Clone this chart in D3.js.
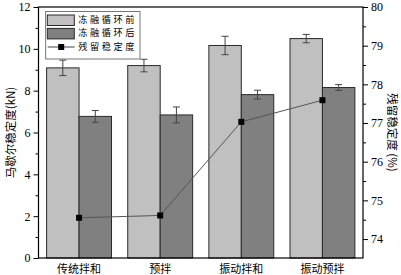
<!DOCTYPE html>
<html>
<head>
<meta charset="utf-8">
<script src="https://cdn.jsdelivr.net/npm/d3@7"></script>
<style>
  body { margin: 0; background: #fff; }
  svg { display: block; }
</style>
</head>
<body>
<div id="chart"></div>
<script>
const categories = ["传统拌和", "预拌", "振动拌和", "振动预拌"];
const before = [9.09, 9.2, 10.16, 10.49];
const beforeErr = [0.37, 0.3, 0.44, 0.2];
const after = [6.77, 6.84, 7.81, 8.15];
const afterErr = [0.28, 0.38, 0.21, 0.14];
const residual = [74.55, 74.61, 77.03, 77.59];
const leftTicks = [0, 2, 4, 6, 8, 10, 12];
const rightTicks = [74, 75, 76, 77, 78, 79, 80];
const legendLabels = ["冻融循环前", "冻融循环后", "残留稳定度"];

const width = 401, height = 275;
const margin = { top: 7, right: 38, bottom: 17, left: 38.5 };
const w = width - margin.left - margin.right;
const h = height - margin.top - margin.bottom;
const cjk = "'Noto Sans CJK SC', sans-serif";
const serif = "'Liberation Serif', 'DejaVu Serif', serif";

const svg = d3.select("#chart").append("svg")
  .attr("width", width).attr("height", height)
  .append("g")
  .attr("transform", `translate(${margin.left},${margin.top})`);

const x = d3.scaleBand().domain(categories).range([0, w]);
const yL = d3.scaleLinear().domain([0, 12]).range([h, 0]);
const yR = d3.scaleLinear().domain([73.51, 80]).range([h, 0]);
const bw = x.bandwidth() * 0.4;

// Balken
const series = [
  { vals: before, errs: beforeErr, fill: "#c0c0c0", off: -bw },
  { vals: after, errs: afterErr, fill: "#808080", off: 0 }
];
series.forEach(s => {
  svg.selectAll(null).data(categories).enter().append("rect")
    .attr("x", d => x(d) + x.bandwidth() / 2 + s.off)
    .attr("y", (d, i) => yL(s.vals[i]))
    .attr("width", bw)
    .attr("height", (d, i) => h - yL(s.vals[i]))
    .attr("fill", s.fill)
    .attr("stroke", "#2a2a2a")
    .attr("stroke-width", 1);

  const eb = svg.selectAll(null).data(categories).enter().append("g")
    .attr("stroke", "#444").attr("stroke-width", 1);
  eb.append("line")
    .attr("x1", d => x(d) + x.bandwidth() / 2 + s.off + bw / 2)
    .attr("x2", d => x(d) + x.bandwidth() / 2 + s.off + bw / 2)
    .attr("y1", (d, i) => yL(s.vals[i] + s.errs[i]))
    .attr("y2", (d, i) => yL(s.vals[i] - s.errs[i]));
  [1, -1].forEach(sg => {
    eb.append("line")
      .attr("x1", d => x(d) + x.bandwidth() / 2 + s.off + bw / 2 - 3.5)
      .attr("x2", d => x(d) + x.bandwidth() / 2 + s.off + bw / 2 + 3.5)
      .attr("y1", (d, i) => yL(s.vals[i] + sg * s.errs[i]))
      .attr("y2", (d, i) => yL(s.vals[i] + sg * s.errs[i]));
  });
});

// Linie
svg.append("path")
  .datum(residual)
  .attr("fill", "none")
  .attr("stroke", "#555")
  .attr("stroke-width", 1)
  .attr("d", d3.line()
    .x((d, i) => x(categories[i]) + x.bandwidth() / 2)
    .y(d => yR(d)));
svg.selectAll(null).data(residual).enter().append("rect")
  .attr("x", (d, i) => x(categories[i]) + x.bandwidth() / 2 - 3)
  .attr("y", d => yR(d) - 3)
  .attr("width", 6).attr("height", 6)
  .attr("fill", "#000");

// Rahmen
svg.append("rect")
  .attr("width", w).attr("height", h)
  .attr("fill", "none").attr("stroke", "#000").attr("stroke-width", 1.2);

// Achsen
const styleAxis = g => {
  g.select(".domain").remove();
  g.selectAll("text").attr("font-family", serif).attr("font-size", 12).attr("fill", "#000");
  g.selectAll("line").attr("stroke", "#000");
};
svg.append("g")
  .call(d3.axisLeft(yL).tickValues(d3.range(0, 13, 1)).tickSize(4).tickPadding(4)
    .tickFormat(d => leftTicks.includes(d) ? d : ""))
  .call(styleAxis)
  .call(g => g.selectAll(".tick line").attr("x2", d => leftTicks.includes(d) ? -5 : -3));

svg.append("g")
  .attr("transform", `translate(${w},0)`)
  .call(d3.axisRight(yR).tickValues(d3.range(74, 80.01, 0.5)).tickSize(4).tickPadding(4)
    .tickFormat(d => rightTicks.includes(d) ? d : ""))
  .call(styleAxis)
  .call(g => g.selectAll(".tick line").attr("x2", d => rightTicks.includes(d) ? 5 : 3));

svg.append("g")
  .attr("transform", `translate(0,${h})`)
  .call(d3.axisBottom(x).tickSize(0).tickPadding(7))
  .call(styleAxis)
  .call(g => g.selectAll("text").attr("font-family", cjk).attr("font-size", 11));

// Achsentitel
svg.append("text")
  .attr("transform", `translate(${-27},${h / 2}) rotate(-90)`)
  .attr("text-anchor", "middle").attr("dominant-baseline", "middle")
  .attr("font-family", cjk).attr("font-size", 11.5)
  .text("马歇尔稳定度(kN)");
svg.append("text")
  .attr("transform", `translate(${w + 28.5},${h / 2}) rotate(90)`)
  .attr("text-anchor", "middle").attr("dominant-baseline", "middle")
  .attr("font-family", cjk).attr("font-size", 11.5)
  .text("残留稳定度 (%)");

// Legende
const rowH = 13.4;
const lg = svg.append("g").attr("transform", "translate(7.2,4.5)");
lg.append("rect").attr("width", 94.3).attr("height", 47.5)
  .attr("fill", "#fff").attr("stroke", "#555").attr("stroke-width", 0.8);
["#c0c0c0", "#808080"].forEach((c, i) => {
  lg.append("rect").attr("x", 1.6).attr("y", 3.5 + i * rowH)
    .attr("width", 27).attr("height", 10.5)
    .attr("fill", c).attr("stroke", "#2a2a2a");
});
lg.append("line").attr("x1", 2).attr("x2", 29).attr("y1", 8.7 + 2 * rowH).attr("y2", 8.7 + 2 * rowH)
  .attr("stroke", "#444");
lg.append("rect").attr("x", 12.5).attr("y", 5.7 + 2 * rowH).attr("width", 6).attr("height", 6).attr("fill", "#000");
legendLabels.forEach((t, i) => {
  lg.append("text").attr("x", 32.5).attr("y", 8.9 + i * rowH)
    .attr("dominant-baseline", "middle")
    .attr("font-family", cjk).attr("font-size", 9.2)
    .attr("letter-spacing", 2.6)
    .text(t);
});
</script>
</body>
</html>
